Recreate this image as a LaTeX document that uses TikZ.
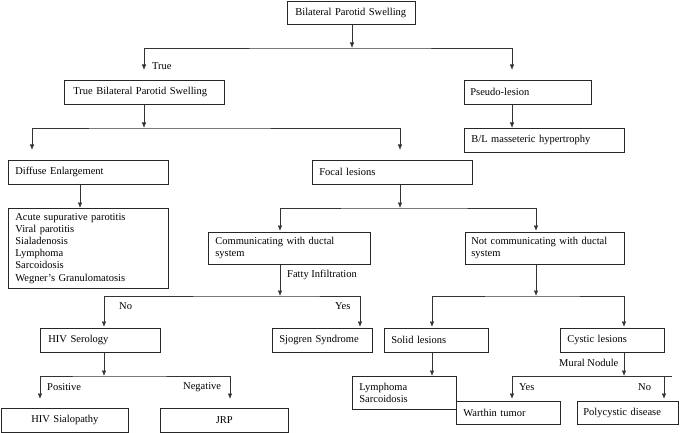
\documentclass[tikz,border=0pt]{standalone}
\usepackage{fontspec}
\setmainfont{Liberation Serif}
\usetikzlibrary{arrows.meta}
\tikzset{
  box/.style={draw=black!85, line width=0.7pt, inner xsep=7pt, inner ysep=0pt,
    anchor=north west, align=left, font=\fontsize{10.5}{12.2}\selectfont},
  cbox/.style={box, align=center},
  lbl/.style={anchor=west, inner sep=0pt, font=\fontsize{10.5}{12.2}\selectfont},
  conn/.style={draw=black!80, line width=0.7pt},
  arr/.style={conn, -{Latex[length=5.5pt,width=4.4pt]}},
  arrtwo/.style={conn, {Latex[length=5.5pt,width=4.4pt]}-{Latex[length=5.5pt,width=4.4pt]}}
}
\begin{document}
\begin{tikzpicture}[x=1pt,y=-1pt]
\useasboundingbox (0,0) rectangle (680,433);
% boxes
\node[box, inner xsep=8pt, text width=112pt, minimum height=23pt] (top) at (287,1) {Bilateral Parotid Swelling};
\node[box, inner xsep=9pt, text width=142pt, minimum height=24pt] (tbps) at (64,80) {True Bilateral Parotid Swelling};
\node[box, inner xsep=6pt, text width=115pt, minimum height=24pt] (pseudo) at (464,80) {Pseudo-lesion};
\node[box, text width=146pt, minimum height=24pt] (bl) at (464,128) {B/L masseteric hypertrophy};
\node[box, text width=146pt, minimum height=24pt] (diffuse) at (8,160) {Diffuse Enlargement};
\node[box, text width=146pt, minimum height=24pt] (focal) at (312,160) {Focal lesions};
\node[box, text width=146pt, minimum height=80pt] (list) at (8,208) {Acute supurative parotitis\\Viral parotitis\\Sialadenosis\\Lymphoma\\Sarcoidosis\\Wegner’s Granulomatosis};
\node[box, text width=148pt, minimum height=32pt] (comm) at (208,232) {Communicating with ductal\\system};
\node[box, inner xsep=6pt, text width=147pt, minimum height=32pt] (notcomm) at (465,232) {Not communicating with ductal\\system};
\node[box, inner xsep=8pt, text width=104pt, minimum height=24pt] (hivser) at (40,328) {HIV Serology};
\node[box, text width=86pt, minimum height=24pt] (sjogren) at (272,328) {Sjogren Syndrome};
\node[box, text width=90pt, minimum height=24pt] (solid) at (384,328) {Solid lesions};
\node[box, text width=90pt, minimum height=24pt] (cystic) at (560,328) {Cystic lesions};
\node[cbox, text width=113pt, minimum height=24pt] (hivsia) at (1,408) {HIV Sialopathy};
\node[cbox, text width=114pt, minimum height=24pt] (jrp) at (160,408) {JRP};
\node[box, text width=90pt, minimum height=33pt] (lymph) at (352,376) {Lymphoma\\Sarcoidosis};
\node[box, text width=90pt, minimum height=23pt] (warthin) at (456,401) {Warthin tumor};
\node[box, inner xsep=6pt, text width=89pt, minimum height=23pt] (poly) at (577,401) {Polycystic disease};
% labels
\node[lbl] (lTrue) at (152,66) {True};
\node[lbl] (lFatty) at (287,275) {Fatty Infiltration};
\node[lbl] (lNo1) at (119,306) {No};
\node[lbl] (lYes1) at (335,306) {Yes};
\node[lbl] (lPos) at (47,387) {Positive};
\node[lbl] (lNeg) at (183,387) {Negative};
\node[lbl] (lMural) at (559,363) {Mural Nodule};
\node[lbl] (lYes2) at (519,387) {Yes};
\node[lbl] (lNo2) at (638,387) {No};
% junctions
\coordinate (j1) at (352,48);
\coordinate (e1) at (144,70);
\coordinate (e2) at (512,70);
\coordinate (j2) at (144,128);
\coordinate (e3) at (32,150);
\coordinate (e4) at (400,150);
\coordinate (j3) at (400,208);
\coordinate (e5) at (280,231);
\coordinate (e6) at (536,231);
\coordinate (j4) at (280,296);
\coordinate (e7) at (104,327);
\coordinate (e8) at (360,327);
\coordinate (j5) at (536,296);
\coordinate (e9) at (432,327);
\coordinate (e10) at (624,327);
\coordinate (j6) at (104,376);
\coordinate (e11) at (40,399);
\coordinate (e12) at (230,399);
\coordinate (j7) at (624,376);
\coordinate (e13) at (512,399);
\coordinate (e14) at (664,399);
\coordinate (r7) at (672,376);
% connectors
\draw[arr] (top.south -| j1) -- (j1);
\draw[arrtwo] (e1) |- (j1) -| (e2);
\draw[arr] (tbps.south -| j2) -- (j2);
\draw[arrtwo] (e3) |- (j2) -| (e4);
\draw[arr] (pseudo.south -| e2) -- (bl.north -| e2);
\draw[arr] ([xshift=72pt]diffuse.south west) -- ([xshift=72pt]list.north west);
\draw[arr] (focal.south -| j3) -- (j3);
\draw[arrtwo] (e5) |- (j3) -| (e6);
\draw[arr] (comm.south -| j4) -- (j4);
\draw[arrtwo] (e7) |- (j4) -| (e8);
\draw[arr] (notcomm.south -| j5) -- (j5);
\draw[arrtwo] (e9) |- (j5) -| (e10);
\draw[arr] (hivser.south -| j6) -- (j6);
\draw[arrtwo] (e11) |- (j6) -| (e12);
\draw[arr] (solid.south -| e9) -- (lymph.north -| e9);
\draw[arr] (cystic.south -| j7) -- (j7);
\draw[conn] (e13 |- j7) -- (r7);
\draw[arr] (e13 |- j7) -- (e13);
\draw[arr] (e14 |- j7) -- (e14);
\end{tikzpicture}
\end{document}
